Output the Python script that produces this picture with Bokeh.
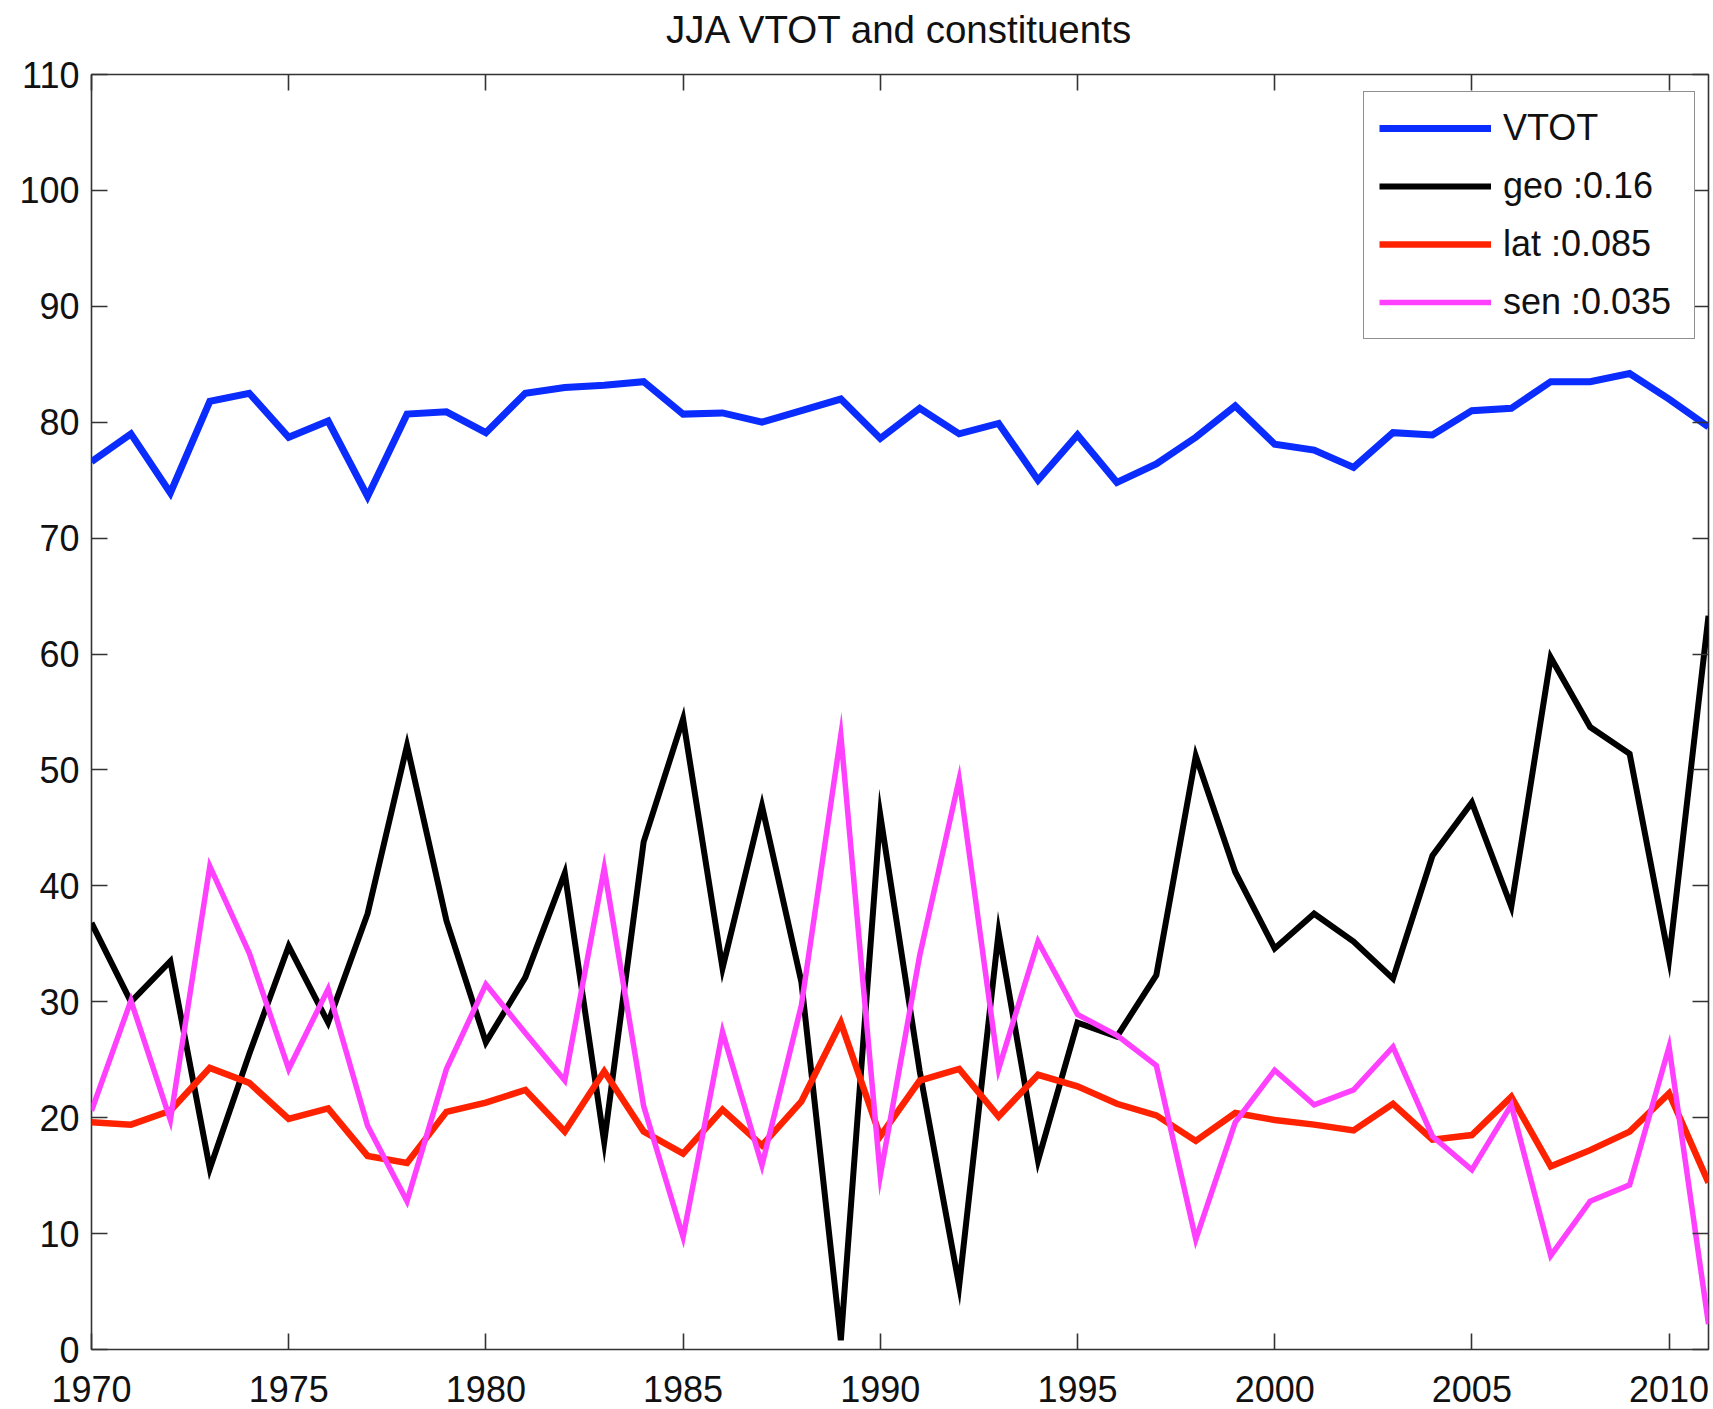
from bokeh.plotting import figure
from bokeh.models import (Range1d, LinearAxis, FixedTicker, Legend, LegendItem,
                          ColumnDataSource)
from bokeh.embed import file_html
from bokeh.resources import INLINE

# Summer (JJA) totals and their constituents, 1970-2011
years = list(range(1970, 2012))

vtot = [76.6, 79.0, 73.9, 81.8, 82.5, 78.7, 80.1, 73.6, 80.7, 80.9,
        79.1, 82.5, 83.0, 83.2, 83.5, 80.7, 80.8, 80.0, 81.0, 82.0,
        78.6, 81.2, 79.0, 79.9, 75.0, 78.9, 74.8, 76.4, 78.7, 81.4,
        78.1, 77.6, 76.1, 79.1, 78.9, 81.0, 81.2, 83.5, 83.5, 84.2,
        82.0, 79.6]

geo = [36.8, 30.0, 33.5, 15.6, 25.5, 34.8, 28.2, 37.6, 52.1, 37.0,
       26.5, 32.1, 41.1, 17.9, 43.8, 54.4, 32.9, 46.9, 31.7, 0.8,
       46.1, 24.0, 5.5, 36.0, 16.3, 28.2, 27.0, 32.3, 51.2, 41.2,
       34.6, 37.6, 35.2, 32.0, 42.6, 47.2, 38.2, 59.7, 53.7, 51.4,
       33.7, 63.3]

lat = [19.6, 19.4, 20.6, 24.3, 23.0, 19.9, 20.8, 16.7, 16.1, 20.5,
       21.3, 22.4, 18.8, 24.0, 18.8, 16.9, 20.7, 17.6, 21.4, 28.2,
       18.4, 23.2, 24.2, 20.1, 23.7, 22.7, 21.2, 20.2, 18.0, 20.4,
       19.8, 19.4, 18.9, 21.2, 18.1, 18.5, 21.8, 15.8, 17.2, 18.8,
       22.1, 14.4]

sen = [20.6, 30.1, 19.8, 41.7, 34.2, 24.2, 31.1, 19.3, 12.8, 24.2,
       31.5, 27.3, 23.2, 41.5, 21.0, 9.7, 27.4, 15.9, 29.7, 53.0,
       15.0, 34.0, 49.2, 24.2, 35.2, 28.9, 27.1, 24.5, 9.5, 19.6,
       24.1, 21.1, 22.4, 26.1, 18.4, 15.5, 21.1, 8.1, 12.8, 14.2,
       26.1, 2.2]

chart_title = "JJA VTOT and constituents"
series_labels = ["VTOT", "geo :0.16", "lat :0.085", "sen :0.035"]
x_ticks = list(range(1970, 2011, 5))
y_ticks = list(range(0, 111, 10))

FONT = "Liberation Sans"

src = ColumnDataSource(dict(year=years, vtot=vtot, geo=geo, lat=lat, sen=sen))

p = figure(width=1713, height=1409, output_backend="svg", toolbar_location=None,
           x_range=Range1d(1970, 2011), y_range=Range1d(0, 110),
           min_border_left=91, min_border_right=5, min_border_top=74,
           min_border_bottom=60, background_fill_color="white",
           border_fill_color="white")

p.xgrid.visible = False
p.ygrid.visible = False
p.outline_line_color = "#333333"
p.outline_line_width = 1.6
p.title.text = ""
p.title.standoff = 0


def style_axis(ax, labels=True):
    ax.axis_line_color = None
    ax.major_tick_line_color = "#333333"
    ax.major_tick_line_width = 1.6
    ax.major_tick_in = 16
    ax.major_tick_out = 0
    ax.minor_tick_line_color = None
    if labels:
        ax.major_label_text_font = FONT
        ax.major_label_text_font_size = "36px"
        ax.major_label_text_color = "#111111"
    else:
        # tick marks only on the mirrored sides
        ax.major_label_text_font_size = "1px"
        ax.major_label_text_color = None
        ax.major_label_standoff = 0


xa = p.xaxis[0]
xa.ticker = FixedTicker(ticks=x_ticks)
style_axis(xa)
xa.major_label_standoff = 26

ya = p.yaxis[0]
ya.ticker = FixedTicker(ticks=y_ticks)
style_axis(ya)
ya.major_label_standoff = 12

# mirrored top axis; it also carries the heading centred over the frame
top_ax = LinearAxis(ticker=FixedTicker(ticks=x_ticks))
style_axis(top_ax, labels=False)
top_ax.axis_label = chart_title
top_ax.axis_label_text_font = FONT
top_ax.axis_label_text_font_size = "38.5px"
top_ax.axis_label_text_font_style = "normal"
top_ax.axis_label_text_color = "#111111"
top_ax.axis_label_standoff = 24
p.add_layout(top_ax, "above")

right_ax = LinearAxis(ticker=FixedTicker(ticks=y_ticks))
style_axis(right_ax, labels=False)
p.add_layout(right_ax, "right")

# series
r_vtot = p.line("year", "vtot", source=src, line_color="#0a2cff", line_width=7,
                line_join="miter")
r_geo = p.line("year", "geo", source=src, line_color="#000000", line_width=6,
               line_join="miter")
r_lat = p.line("year", "lat", source=src, line_color="#ff2200", line_width=6.5,
               line_join="miter")
r_sen = p.line("year", "sen", source=src, line_color="#ff40ff", line_width=5.5,
               line_join="miter")

legend = Legend(
    items=[LegendItem(label=series_labels[0], renderers=[r_vtot]),
           LegendItem(label=series_labels[1], renderers=[r_geo]),
           LegendItem(label=series_labels[2], renderers=[r_lat]),
           LegendItem(label=series_labels[3], renderers=[r_sen])],
    location=(1272, 1010),
    orientation="vertical",
    glyph_width=112, glyph_height=40, label_height=40, label_width=176,
    label_standoff=12, spacing=16, padding=15, margin=0,
    label_text_font=FONT, label_text_font_size="36px",
    label_text_color="#111111", label_text_baseline="middle",
    border_line_color="#222222", border_line_width=1.6,
    background_fill_color="white", background_fill_alpha=1.0,
)
p.add_layout(legend, "center")

open("out.html", "w").write(file_html(p, INLINE))
